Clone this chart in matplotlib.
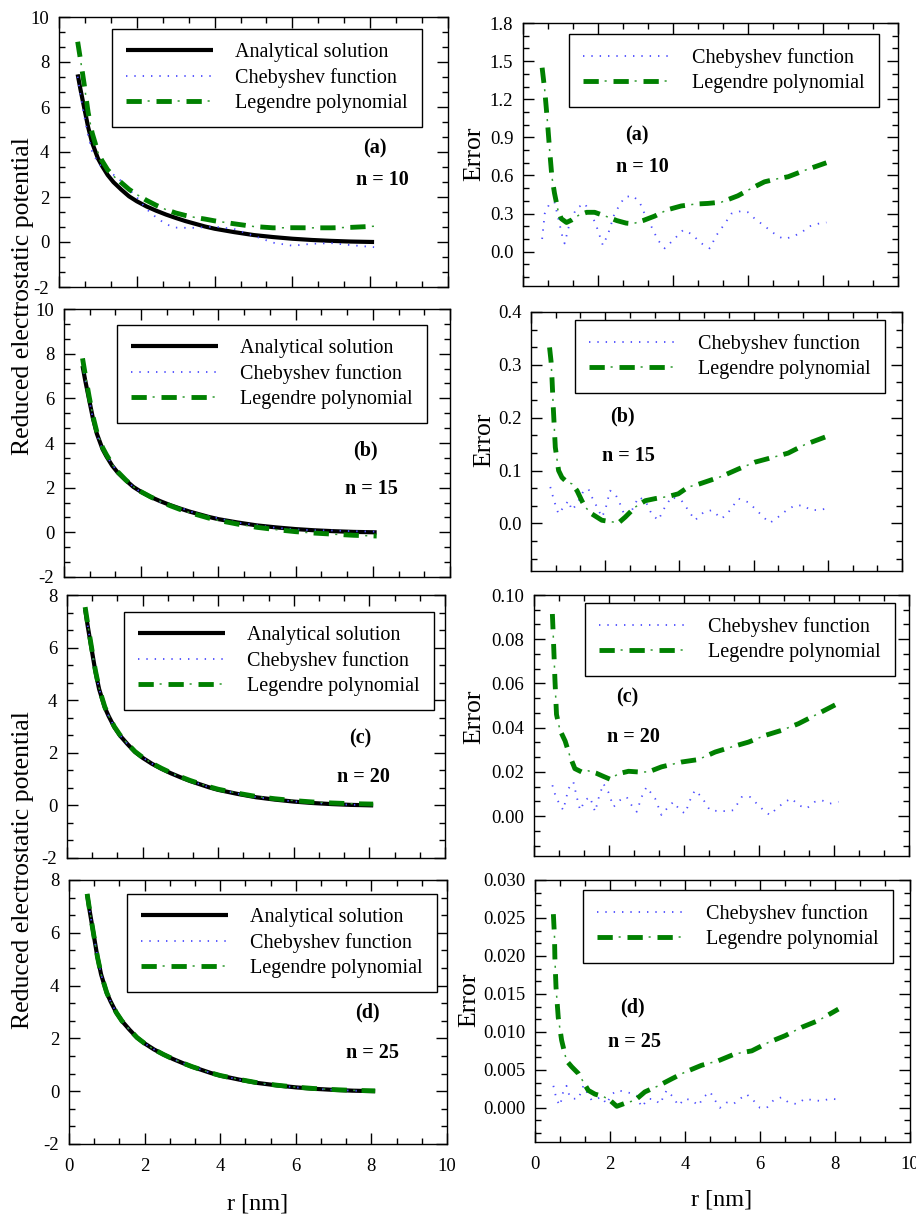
import matplotlib
matplotlib.use('Agg')
import matplotlib.pyplot as plt
from matplotlib.ticker import MultipleLocator, AutoMinorLocator, FormatStrFormatter
from matplotlib.legend_handler import HandlerTuple

plt.rcParams['font.family'] = ['Liberation Serif', 'DejaVu Serif']
plt.rcParams['axes.unicode_minus'] = False
plt.rcParams['lines.scale_dashes'] = False

# ---------------- data: reduced electrostatic potential (left column) ----------------
r_left = [0.48, 0.55, 0.65, 0.75, 0.85, 1.0, 1.1, 1.25, 1.4, 1.6, 1.8, 2.0, 2.25, 2.5,
          2.75, 3.0, 3.25, 3.5, 3.75, 4.0, 4.5, 5.0, 5.5, 6.0, 6.5, 7.0, 7.5, 8.1]
analytical = [7.45, 6.8, 5.95, 5.1, 4.42, 3.72, 3.4, 2.98, 2.66, 2.33, 2.03, 1.81, 1.58, 1.39,
              1.22, 1.07, 0.93, 0.81, 0.69, 0.59, 0.44, 0.31, 0.22, 0.145, 0.09, 0.05, 0.02, 0.0]

cheb_left_10 = [7.35, 6.55, 5.59, 4.71, 4.04, 3.52, 3.34, 3.18, 2.99, 2.71, 2.34, 1.99, 1.46, 1.09,
                0.79, 0.64, 0.63, 0.63, 0.66, 0.68, 0.58, 0.28, -0.03, -0.165, -0.08, -0.05, -0.14, -0.23]
leg_left_10 = [8.9, 8.13, 6.98, 5.75, 4.86, 3.99, 3.63, 3.21, 2.93, 2.64, 2.34, 2.11, 1.85, 1.63,
               1.44, 1.29, 1.18, 1.09, 1.02, 0.94, 0.81, 0.69, 0.63, 0.635, 0.63, 0.63, 0.65, 0.70]

cheb_left_15 = [7.52, 6.85, 5.97, 5.08, 4.39, 3.68, 3.43, 3.02, 2.72, 2.38, 2.02, 1.79, 1.53, 1.36,
                1.21, 1.11, 0.95, 0.80, 0.72, 0.63, 0.43, 0.32, 0.20, 0.13, 0.09, 0.08, 0.05, 0.03]
leg_left_15 = [7.79, 7.07, 6.09, 5.2, 4.505, 3.795, 3.474, 3.042, 2.70, 2.346, 2.037, 1.814, 1.582, 1.38,
               1.193, 1.03, 0.884, 0.762, 0.638, 0.534, 0.368, 0.224, 0.12, 0.03, -0.035, -0.085, -0.132, -0.165]

cheb_left_20 = [7.464, 6.81, 5.957, 5.103, 4.432, 3.735, 3.403, 2.989, 2.669, 2.338, 2.045, 1.822, 1.588, 1.398,
                1.229, 1.072, 0.942, 0.818, 0.695, 0.598, 0.452, 0.313, 0.229, 0.151, 0.096, 0.057, 0.027, 0.006]
leg_left_20 = [7.54, 6.88, 6.0, 5.14, 4.45, 3.747, 3.421, 3.0, 2.681, 2.35, 2.048, 1.827, 1.599, 1.41,
               1.24, 1.09, 0.952, 0.832, 0.714, 0.615, 0.467, 0.34, 0.253, 0.182, 0.13, 0.092, 0.066, 0.05]

cheb_left_25 = [7.453, 6.801, 5.951, 5.102, 4.421, 3.721, 3.401, 2.981, 2.661, 2.331, 2.031, 1.812, 1.582, 1.392,
                1.218, 1.071, 0.931, 0.811, 0.691, 0.591, 0.441, 0.311, 0.222, 0.147, 0.091, 0.051, 0.021, 0.001]
leg_left_25 = [7.476, 6.818, 5.96, 5.107, 4.426, 3.725, 3.404, 2.983, 2.662, 2.332, 2.0315, 1.811, 1.5805, 1.3907,
               1.2212, 1.0722, 0.9332, 0.8139, 0.6943, 0.5947, 0.4456, 0.3163, 0.2272, 0.1536, 0.0993, 0.0605, 0.0315, 0.013]

# ---------------- data: errors (right column) ----------------
r_cheb_err_10 = [0.51, 0.58, 0.71, 0.84, 0.95, 1.05, 1.11, 1.24, 1.42, 1.64, 1.82, 1.96, 2.13, 2.27,
                 2.44, 2.71, 2.93, 3.11, 3.24, 3.42, 3.6, 3.78, 4.0, 4.27, 4.49, 4.76, 4.98, 5.16,
                 5.38, 5.56, 5.82, 6.0, 6.18, 6.36, 6.58, 6.8, 6.98, 7.2, 7.42, 7.64, 7.87, 8.09]
cheb_err_10 = [0.10, 0.30, 0.38, 0.39, 0.25, 0.12, 0.065, 0.22, 0.34, 0.38, 0.30, 0.20, 0.05, 0.14,
               0.30, 0.43, 0.44, 0.39, 0.30, 0.20, 0.09, 0.026, 0.09, 0.17, 0.14, 0.065, 0.026, 0.13,
               0.22, 0.30, 0.32, 0.31, 0.26, 0.22, 0.17, 0.12, 0.10, 0.12, 0.15, 0.20, 0.22, 0.23]
r_leg_err_10 = [0.51, 0.58, 0.65, 0.71, 0.77, 0.84, 0.93, 1.02, 1.16, 1.3, 1.5, 1.7, 1.91, 2.2, 2.5,
                2.75, 2.93, 3.2, 3.51, 3.85, 4.22, 4.6, 4.93, 5.29, 5.73, 6.1, 6.44, 6.8, 7.07, 7.51, 8.09]
leg_err_10 = [1.448, 1.27, 1.03, 0.80, 0.59, 0.46, 0.33, 0.26, 0.23, 0.25, 0.29, 0.31, 0.31, 0.28, 0.245,
              0.225, 0.22, 0.245, 0.28, 0.33, 0.36, 0.375, 0.38, 0.39, 0.44, 0.50, 0.55, 0.575, 0.59, 0.64, 0.70]

r_cheb_err_15 = [0.52, 0.57, 0.65, 0.74, 0.88, 1.01, 1.10, 1.24, 1.42, 1.55, 1.64, 1.78, 1.91, 2.0, 2.13,
                 2.27, 2.40, 2.54, 2.72, 2.90, 3.08, 3.25, 3.43, 3.61, 3.79, 4.06, 4.24, 4.42, 4.65, 4.87,
                 5.14, 5.32, 5.59, 5.86, 6.08, 6.31, 6.44, 6.66, 6.89, 7.11, 7.34, 7.52, 7.74, 7.96]
cheb_err_15 = [0.069, 0.056, 0.037, 0.018, 0.031, 0.043, 0.025, 0.037, 0.062, 0.065, 0.050, 0.031, 0.012, 0.025, 0.062,
               0.056, 0.037, 0.012, 0.025, 0.050, 0.043, 0.018, 0.006, 0.031, 0.050, 0.043, 0.025, 0.006, 0.021, 0.025,
               0.009, 0.021, 0.047, 0.040, 0.025, 0.009, 0.001, 0.012, 0.025, 0.034, 0.034, 0.026, 0.025, 0.028]
r_leg_err_15 = [0.50, 0.54, 0.565, 0.60, 0.655, 0.744, 0.834, 0.97, 1.10, 1.24, 1.37, 1.46, 1.64, 1.91, 2.18,
                2.36, 2.54, 2.81, 3.08, 3.35, 3.70, 3.97, 4.24, 4.51, 5.14, 5.59, 6.04, 6.57, 6.93, 7.38, 7.95]
leg_err_15 = [0.333, 0.307, 0.276, 0.22, 0.144, 0.100, 0.087, 0.078, 0.075, 0.062, 0.043, 0.031, 0.018, 0.006, 0.003,
              0.001, 0.012, 0.031, 0.043, 0.047, 0.051, 0.056, 0.069, 0.074, 0.089, 0.103, 0.116, 0.126, 0.133, 0.149, 0.164]

r_cheb_err_20 = [0.49, 0.56, 0.65, 0.78, 0.92, 1.05, 1.14, 1.23, 1.36, 1.49, 1.63, 1.72, 1.85, 1.98, 2.12,
                 2.29, 2.47, 2.60, 2.74, 2.87, 3.0, 3.23, 3.40, 3.58, 3.72, 3.89, 4.03, 4.16, 4.29, 4.47,
                 4.69, 4.92, 5.14, 5.32, 5.54, 5.76, 5.94, 6.12, 6.29, 6.47, 6.69, 6.87, 7.05, 7.27, 7.49,
                 7.67, 7.89, 8.12]
cheb_err_20 = [0.014, 0.010, 0.0065, 0.0027, 0.0125, 0.0155, 0.0087, 0.0027, 0.0072, 0.0087, 0.002, 0.008, 0.0147, 0.011, 0.0042,
               0.0072, 0.0087, 0.005, 0.002, 0.0087, 0.0132, 0.008, 0.0005, 0.0042, 0.0065, 0.0027, 0.0012, 0.0072, 0.0117, 0.0087,
               0.0027, 0.0023, 0.0023, 0.0027, 0.0087, 0.0087, 0.0057, 0.0027, 0.0005, 0.0035, 0.0065, 0.008, 0.005, 0.0035, 0.0065,
               0.0072, 0.0057, 0.0065]
r_leg_err_20 = [0.49, 0.52, 0.56, 0.60, 0.69, 0.83, 0.96, 1.09, 1.27, 1.45, 1.65, 1.85, 2.03, 2.25, 2.52,
                2.78, 3.05, 3.40, 3.94, 4.38, 4.83, 5.27, 5.72, 6.16, 6.60, 7.05, 7.49, 8.12]
leg_err_20 = [0.0914, 0.079, 0.061, 0.046, 0.039, 0.034, 0.027, 0.0215, 0.020, 0.0205, 0.0195, 0.018, 0.0167, 0.0192, 0.0203,
              0.020, 0.020, 0.0223, 0.0245, 0.0256, 0.029, 0.0313, 0.0335, 0.0365, 0.0388, 0.0418, 0.0456, 0.0511]

r_cheb_err_25 = [0.49, 0.58, 0.67, 0.76, 0.84, 0.93, 1.02, 1.16, 1.29, 1.38, 1.51, 1.64, 1.78, 1.91, 2.04,
                 2.22, 2.40, 2.58, 2.71, 2.84, 3.02, 3.20, 3.33, 3.51, 3.69, 3.82, 4.0, 4.18, 4.36, 4.49,
                 4.67, 4.80, 4.93, 5.11, 5.29, 5.47, 5.64, 5.82, 6.0, 6.18, 6.36, 6.58, 6.76, 6.98, 7.2,
                 7.42, 7.64, 7.87, 8.09]
cheb_err_25 = [0.0029, 0.001, 0.0003, 0.0023, 0.0029, 0.0014, 0.0012, 0.0012, 0.0029, 0.0021, 0.001, 0.0012, 0.0014, 0.0005, 0.0018,
               0.0023, 0.0021, 0.0019, 0.0016, 0.0001, 0.0012, 0.0011, 0.0005, 0.0023, 0.0014, 0.0003, 0.0012, 0.001, 0.0003, 0.0014,
               0.0021, 0.001, 0.0, 0.0007, 0.0005, 0.0012, 0.0018, 0.001, 0.0, 0.0, 0.001, 0.0014, 0.0007, 0.0005, 0.0012,
               0.001, 0.0009, 0.0012, 0.0011]
r_leg_err_25 = [0.49, 0.52, 0.53, 0.56, 0.62, 0.71, 0.84, 0.98, 1.16, 1.29, 1.42, 1.60, 1.82, 2.0, 2.18,
                2.40, 2.67, 2.93, 3.29, 3.64, 4.0, 4.44, 4.89, 5.33, 5.78, 6.22, 6.67, 7.11, 7.56, 8.09]
leg_err_25 = [0.0255, 0.0225, 0.0198, 0.0159, 0.0119, 0.0089, 0.0062, 0.0054, 0.0045, 0.0034, 0.0023, 0.0018, 0.0015, 0.001, 0.0002,
              0.0006, 0.001, 0.0021, 0.0029, 0.0038, 0.0047, 0.0056, 0.0062, 0.0071, 0.0075, 0.0086, 0.0095, 0.0106, 0.0115, 0.013]

panel_tags = ['(a)', '(b)', '(c)', '(d)']
n_labels = ['n = 10', 'n = 15', 'n = 20', 'n = 25']
legend_labels = ['Analytical solution', 'Chebyshev function', 'Legendre polynomial']
x_label = 'r [nm]'
left_ylabel = 'Reduced electrostatic potential'
right_ylabel = 'Error'

left_cheb = [cheb_left_10, cheb_left_15, cheb_left_20, cheb_left_25]
left_leg = [leg_left_10, leg_left_15, leg_left_20, leg_left_25]
right_cheb = [(r_cheb_err_10, cheb_err_10), (r_cheb_err_15, cheb_err_15),
              (r_cheb_err_20, cheb_err_20), (r_cheb_err_25, cheb_err_25)]
right_leg = [(r_leg_err_10, leg_err_10), (r_leg_err_15, leg_err_15),
             (r_leg_err_20, leg_err_20), (r_leg_err_25, leg_err_25)]

# ---------------- layout / style ----------------
W, H = 916, 1219
fig = plt.figure(figsize=(W / 100, H / 100), dpi=100)


def rect(l, r, t, b):
    return [l / W, 1 - b / H, (r - l) / W, (b - t) / H]


left_boxes = [(59, 448, 17, 287), (64, 450, 309, 577), (67, 445, 595, 858), (69, 447, 880, 1144)]
right_boxes = [(523, 898, 23, 286), (531, 902, 312, 571), (534, 909, 595, 856), (535, 910, 880, 1142)]
left_ylims = [(-2, 10), (-2, 10), (-2, 8), (-2, 8)]
right_ylims = [(-0.27, 1.8), (-0.09, 0.4), (-0.018, 0.10), (-0.0045, 0.030)]
right_major = [0.3, 0.1, 0.02, 0.005]
right_fmt = ['%.1f', '%.1f', '%.2f', '%.3f']
left_leg_pos = [(112, 29), (117, 325), (124, 612), (127, 894)]
right_leg_pos = [(569, 34), (575, 320), (585, 603), (583, 890)]
left_tag_pos = [((375, 148), (382, 180)), ((365, 450), (371, 489)),
                ((360, 738), (363, 777)), ((367, 1012), (372, 1053))]
right_tag_pos = [((637, 135), (642, 167)), ((622, 416), (628, 456)),
                 ((627, 697), (633, 737)), ((632, 1007), (635, 1042))]
error_label_pos = [(474, 154), (484, 440), (474, 717), (469, 1000)]

ANA = dict(color='black', lw=3.0, solid_capstyle='butt', zorder=2)
CHEB = dict(color='#4d4dff', lw=1.3, linestyle=(0, (1.0, 5.0)), zorder=3)
LEG_THICK = dict(color='#008000', lw=3.5, linestyle=(0, (11, 10.6)), zorder=4)
LEG_THIN = dict(color='#2e9a2e', lw=1.1, linestyle=(6.05, (1.5, 20.1)), zorder=4)


def style_axes(ax, ylim, major, fmt, bottom_labels):
    ax.set_xlim(0, 10)
    ax.set_ylim(*ylim)
    ax.xaxis.set_major_locator(MultipleLocator(2))
    ax.xaxis.set_minor_locator(AutoMinorLocator(3))
    ax.yaxis.set_major_locator(MultipleLocator(major))
    ax.yaxis.set_minor_locator(AutoMinorLocator(3))
    if fmt:
        ax.yaxis.set_major_formatter(FormatStrFormatter(fmt))
    ax.tick_params(which='both', direction='in', top=True, right=True,
                   labelsize=13.5, width=1, color='black', labelbottom=bottom_labels)
    ax.tick_params(which='major', length=8, pad=7)
    ax.tick_params(which='minor', length=4.5)
    ax.tick_params(axis='x', which='major', pad=10)
    for s in ax.spines.values():
        s.set_linewidth(1.0)
        s.set_color('black')


def add_legend(ax, handles, labels, pos):
    leg = ax.legend(handles, labels, loc='upper left',
                    bbox_to_anchor=(pos[0] / W, 1 - pos[1] / H),
                    bbox_transform=fig.transFigure, borderaxespad=0,
                    fontsize=14.5, handlelength=4.3, handletextpad=1.1,
                    borderpad=0.7, labelspacing=0.3, fancybox=False,
                    framealpha=1, edgecolor='black',
                    handler_map={tuple: HandlerTuple(ndivide=1, pad=0)})
    leg.get_frame().set_linewidth(1.0)


for i in range(4):
    # left column
    ax = fig.add_axes(rect(*left_boxes[i]))
    h1, = ax.plot(r_left, analytical, **ANA)
    h2, = ax.plot(r_left, left_cheb[i], **CHEB)
    h3a, = ax.plot(r_left, left_leg[i], **LEG_THICK)
    h3b, = ax.plot(r_left, left_leg[i], **LEG_THIN)
    style_axes(ax, left_ylims[i], 2, None, i == 3)
    add_legend(ax, [h1, h2, (h3a, h3b)], legend_labels, left_leg_pos[i])
    (tx, ty), (nx, ny) = left_tag_pos[i]
    fig.text(tx / W, 1 - ty / H, panel_tags[i], ha='center', va='center', fontsize=14.5, fontweight='bold')
    fig.text(nx / W, 1 - ny / H, n_labels[i], ha='center', va='center', fontsize=14.5, fontweight='bold')

    # right column
    ax = fig.add_axes(rect(*right_boxes[i]))
    g2, = ax.plot(right_cheb[i][0], right_cheb[i][1], **CHEB)
    g3a, = ax.plot(right_leg[i][0], right_leg[i][1], **LEG_THICK)
    g3b, = ax.plot(right_leg[i][0], right_leg[i][1], **LEG_THIN)
    style_axes(ax, right_ylims[i], right_major[i], right_fmt[i], i == 3)
    add_legend(ax, [g2, (g3a, g3b)], legend_labels[1:], right_leg_pos[i])
    (tx, ty), (nx, ny) = right_tag_pos[i]
    fig.text(tx / W, 1 - ty / H, panel_tags[i], ha='center', va='center', fontsize=14.5, fontweight='bold')
    fig.text(nx / W, 1 - ny / H, n_labels[i], ha='center', va='center', fontsize=14.5, fontweight='bold')
    ex, ey = error_label_pos[i]
    fig.text(ex / W, 1 - ey / H, right_ylabel, rotation=90, ha='center', va='center', fontsize=18.5)

# shared labels
fig.text(23 / W, 1 - 296 / H, left_ylabel, rotation=90, ha='center', va='center', fontsize=18.5)
fig.text(23 / W, 1 - 870 / H, left_ylabel, rotation=90, ha='center', va='center', fontsize=18.5)
fig.text(258 / W, 1 - 1204 / H, x_label, ha='center', va='center', fontsize=17.5)
fig.text(722 / W, 1 - 1200 / H, x_label, ha='center', va='center', fontsize=17.5)

fig.savefig('out.png', dpi=100)
